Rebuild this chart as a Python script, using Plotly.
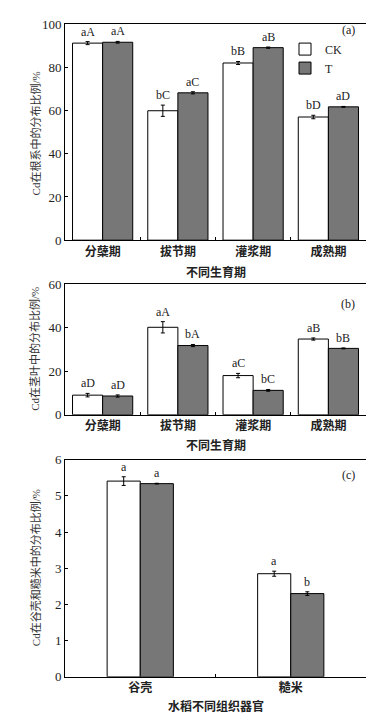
import plotly.graph_objects as go

# ---------------- data ----------------
stages = ["分蘖期", "拔节期", "灌浆期", "成熟期"]
organs = ["谷壳", "糙米"]

root_ck = [91.2, 59.9, 82.0, 57.0]
root_ck_err = [0.7, 2.6, 0.7, 0.8]
root_t = [91.6, 68.2, 89.1, 61.7]
root_t_err = [0.4, 0.5, 0.3, 0.2]
root_ck_sig = ["aA", "bC", "bB", "bD"]
root_t_sig = ["aA", "aC", "aB", "aD"]

stem_ck = [9.0, 40.2, 18.0, 34.8]
stem_ck_err = [0.8, 2.6, 1.0, 0.5]
stem_t = [8.6, 31.8, 11.2, 30.5]
stem_t_err = [0.5, 0.5, 0.4, 0.2]
stem_ck_sig = ["aD", "aA", "aC", "aB"]
stem_t_sig = ["aD", "bA", "bC", "bB"]

grain_ck = [5.41, 2.85]
grain_ck_err = [0.12, 0.07]
grain_t = [5.34, 2.30]
grain_t_err = [0.01, 0.05]
grain_ck_sig = ["a", "a"]
grain_t_sig = ["a", "b"]

y_ticks_a = [0, 20, 40, 60, 80, 100]
y_ticks_b = [0, 20, 40, 60]
y_ticks_c = [0, 1, 2, 3, 4, 5, 6]

# ---------------- style ----------------
W, H = 374, 714
SERIF = "Liberation Serif, Noto Sans CJK SC"
CJK = "Noto Sans CJK SC"
TXT = "#222222"
CK_FILL = "white"
T_FILL = "#777777"

fig = go.Figure()

def px_y(p):
    return 1 - p / H

panels = [
    dict(cats=stages, ck=root_ck, cke=root_ck_err, t=root_t, te=root_t_err,
         cks=root_ck_sig, ts=root_t_sig, w=0.4, rng=[0, 100], ticks=y_ticks_a,
         dom=[px_y(230), px_y(9.3)], xt="不同生育期", yt="Cd在根系中的分布比例/%",
         lab="(a)", laby=15, ytc=121),
    dict(cats=stages, ck=stem_ck, cke=stem_ck_err, t=stem_t, te=stem_t_err,
         cks=stem_ck_sig, ts=stem_t_sig, w=0.4, rng=[0, 60], ticks=y_ticks_b,
         dom=[px_y(408.3), px_y(275)], xt="不同生育期", yt="Cd在茎叶中的分布比例/%",
         lab="(b)", laby=295, ytc=341),
    dict(cats=organs, ck=grain_ck, cke=grain_ck_err, t=grain_t, te=grain_t_err,
         cks=grain_ck_sig, ts=grain_t_sig, w=0.22, rng=[0, 6], ticks=y_ticks_c,
         dom=[px_y(676), px_y(454.3)], xt="水稻不同组织器官", yt="Cd在谷壳和糙米中的分布比例/%",
         lab="(c)", laby=470, ytc=565),
]

xdom = [57 / W, 358 / W]
annotations = []
xt_y = [262, 439, 705]
for i, p in enumerate(panels):
    n = "" if i == 0 else str(i + 1)
    xa, ya = "x" + n, "y" + n
    fig.add_trace(go.Bar(
        x=p["cats"], y=p["ck"], name="CK", showlegend=(i == 0),
        width=p["w"], offset=-p["w"], xaxis=xa, yaxis=ya,
        marker=dict(color=CK_FILL, line=dict(color="black", width=1)),
        error_y=dict(type="data", array=p["cke"], color="black", thickness=1, width=2),
    ))
    fig.add_trace(go.Bar(
        x=p["cats"], y=p["t"], name="T", showlegend=(i == 0),
        width=p["w"], offset=0, xaxis=xa, yaxis=ya,
        marker=dict(color=T_FILL, line=dict(color="black", width=1)),
        error_y=dict(type="data", array=p["te"], color="black", thickness=1, width=2),
    ))
    for j in range(len(p["cats"])):
        annotations.append(dict(x=j - p["w"] / 2, y=p["ck"][j] + p["cke"][j], xref=xa, yref=ya,
                                text=p["cks"][j], showarrow=False, yanchor="bottom", yshift=1,
                                font=dict(family=SERIF, size=12, color=TXT)))
        annotations.append(dict(x=j + p["w"] / 2, y=p["t"][j] + p["te"][j], xref=xa, yref=ya,
                                text=p["ts"][j], showarrow=False, yanchor="bottom", yshift=1,
                                font=dict(family=SERIF, size=12, color=TXT)))
    # panel label
    annotations.append(dict(x=349 / W, y=px_y(p["laby"]), xref="paper", yref="paper",
                            text=p["lab"], showarrow=False, xanchor="right", yanchor="middle",
                            font=dict(family=SERIF, size=12, color=TXT)))
    # y title
    annotations.append(dict(x=27 / W, y=px_y(p["ytc"]), xref="paper", yref="paper",
                            text=p["yt"], showarrow=False, textangle=-90,
                            xanchor="center", yanchor="middle",
                            font=dict(family=SERIF, size=11, color="#333333")))
    # x title
    annotations.append(dict(x=(xdom[0] + xdom[1]) / 2, y=px_y(xt_y[i]), xref="paper", yref="paper",
                            text="<b>" + p["xt"] + "</b>", showarrow=False,
                            xanchor="center", yanchor="middle",
                            font=dict(family=CJK, size=12, color=TXT)))

    axis_common = dict(showline=True, linecolor="black", linewidth=1, mirror=True,
                       showgrid=False, zeroline=False, ticks="inside", ticklen=3,
                       tickcolor="black")
    fig.update_layout(**{
        "xaxis" + n: dict(domain=xdom, anchor=ya, type="category",
                          categoryorder="array", categoryarray=p["cats"],
                          tickson="boundaries", range=[-0.5, len(p["cats"]) - 0.5],
                          tickfont=dict(family=CJK, size=12, color=TXT, weight="bold"),
                          **axis_common),
        "yaxis" + n: dict(domain=p["dom"], anchor=xa, range=p["rng"],
                          tickvals=p["ticks"],
                          tickfont=dict(family=SERIF, size=13, color=TXT),
                          **axis_common),
    })

fig.update_layout(
    width=W, height=H,
    margin=dict(l=0, r=0, t=0, b=0),
    paper_bgcolor="white", plot_bgcolor="white",
    barmode="group",
    annotations=annotations,
    showlegend=True,
    legend=dict(x=277 / W, y=px_y(20), xanchor="left", yanchor="top",
                bgcolor="rgba(0,0,0,0)", tracegroupgap=0, itemwidth=30,
                font=dict(family=SERIF, size=12, color=TXT)),
)

fig.write_html("out.html")
